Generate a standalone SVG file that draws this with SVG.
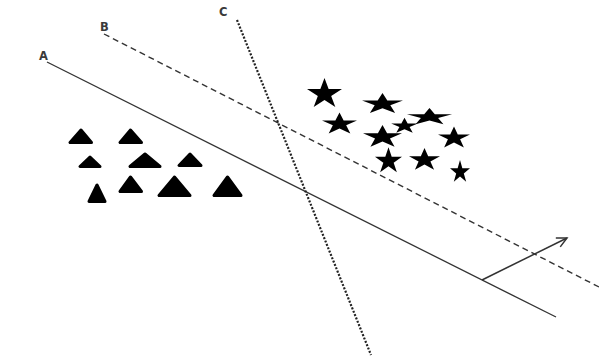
<svg xmlns="http://www.w3.org/2000/svg" xmlns:xlink="http://www.w3.org/1999/xlink" width="599" height="360" viewBox="0 0 599 360">
<style>
.lbl{font-family:"DejaVu Sans","Liberation Sans",sans-serif;font-size:11.5px;font-weight:bold;fill:#3a3a3a;}
.tri{fill:#000;stroke:#000;stroke-width:3;stroke-linejoin:round;}
.star{fill:#000;}
.lineA{stroke:#333;stroke-width:1.3;fill:none;}
.lineB{stroke:#333;stroke-width:1.4;fill:none;stroke-dasharray:6 4;}
.lineC{stroke:#222;stroke-width:2.2;fill:none;stroke-dasharray:2 1.6;}
.arrow{stroke:#333;stroke-width:1.5;fill:none;}
</style>
<defs>
<path id="star" d="M0,-1 L0.2245,-0.309 L0.951,-0.309 L0.363,0.118 L0.588,0.809 L0,0.382 L-0.588,0.809 L-0.363,0.118 L-0.951,-0.309 L-0.2245,-0.309 Z"/>
<marker id="open" markerWidth="14" markerHeight="14" refX="11" refY="7" orient="auto" markerUnits="userSpaceOnUse">
<path d="M1,2 L11,7 L1,12" fill="none" stroke="#333" stroke-width="1.5"/>
</marker>
</defs>
<rect width="599" height="360" fill="#fff"/>
<g id="connectors">
<line class="lineA" x1="47" y1="62" x2="556" y2="317"/>
<line class="lineB" x1="104" y1="34" x2="599" y2="287"/>
<line class="lineC" x1="237" y1="20" x2="371" y2="355"/>
<line class="arrow" x1="482" y1="280" x2="567" y2="238" marker-end="url(#open)"/>
</g>
<g id="labels">
<text class="lbl" x="39" y="60">A</text>
<text class="lbl" x="100" y="31">B</text>
<text class="lbl" x="219" y="16">C</text>
</g>
<g id="triangles">
<polygon id="t1" class="tri" points="81,130 70,142.5 91.5,142.5"/>
<polygon id="t2" class="tri" points="130.5,130 120,142.5 141.5,142.5"/>
<polygon id="t3" class="tri" points="90,157 80,166.5 100,166.5"/>
<polygon id="t4" class="tri" points="145,154 130,166.5 160,166.5"/>
<polygon id="t5" class="tri" points="190,154 179,165.5 201,165.5"/>
<polygon id="t6" class="tri" points="97,185 89,201.5 105,201.5"/>
<polygon id="t7" class="tri" points="130.5,177 120,191.5 141.5,191.5"/>
<polygon id="t8" class="tri" points="174.5,177 159,195.5 190,195.5"/>
<polygon id="t9" class="tri" points="227.5,177 214,195.5 241,195.5"/>
</g>
<g id="stars">
<use id="s1" class="star" xlink:href="#star" transform="translate(324.5,94) scale(18.4,16)"/>
<use id="s2" class="star" xlink:href="#star" transform="translate(382.5,104) scale(21.5,11)"/>
<use id="s3" class="star" xlink:href="#star" transform="translate(429.5,117) scale(23.7,9)"/>
<use id="s4" class="star" xlink:href="#star" transform="translate(339.5,124) scale(18.4,11.6)"/>
<use id="s5" class="star" xlink:href="#star" transform="translate(404.5,126) scale(14,8.3)"/>
<use id="s6" class="star" xlink:href="#star" transform="translate(382.5,137) scale(20.5,12)"/>
<use id="s7" class="star" xlink:href="#star" transform="translate(454,138) scale(16.8,11.6)"/>
<use id="s8" class="star" xlink:href="#star" transform="translate(388.5,161) scale(14.2,13.8)"/>
<use id="s9" class="star" xlink:href="#star" transform="translate(424.5,160) scale(16.3,12)"/>
<use id="s10" class="star" xlink:href="#star" transform="translate(460,172) scale(10.5,12)"/>
</g>
</svg>
